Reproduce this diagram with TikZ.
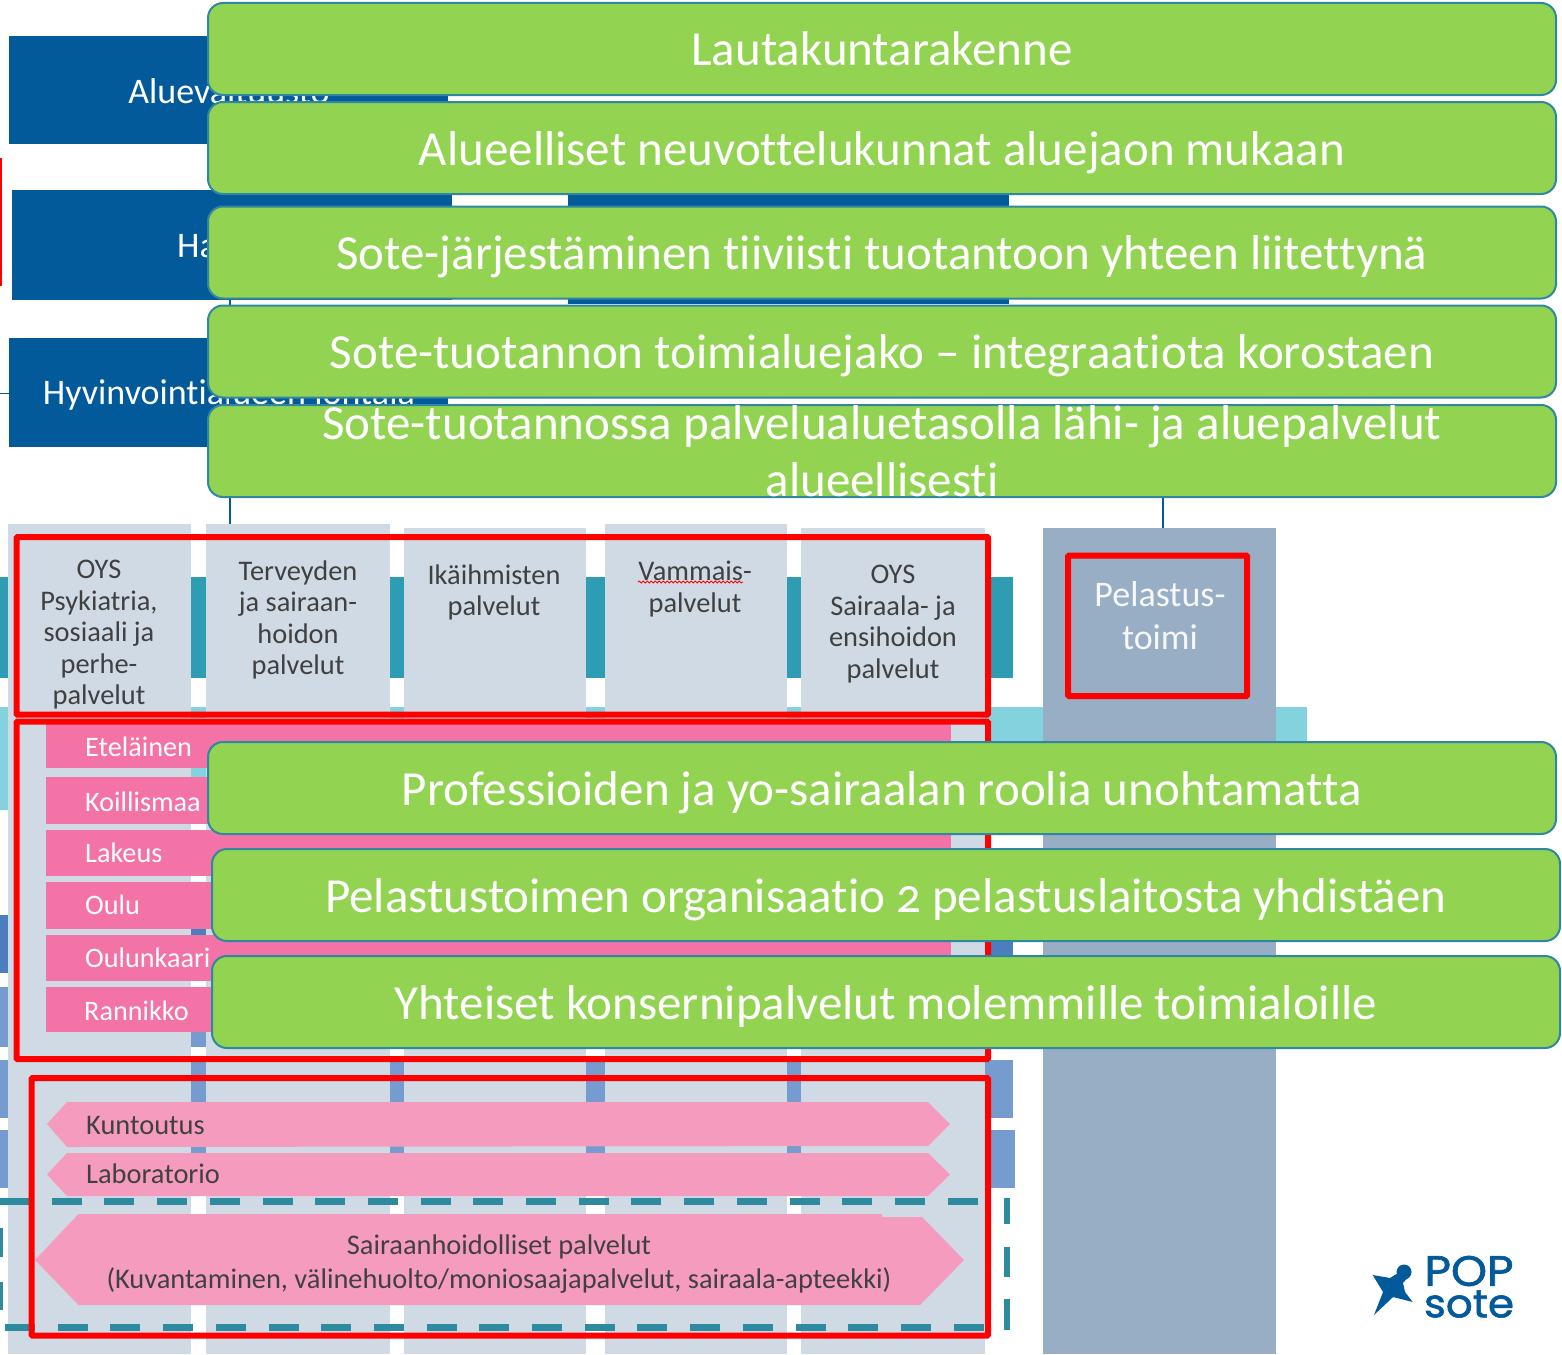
\documentclass[tikz,border=0pt]{standalone}
\usepackage{fontspec}
\setmainfont{Carlito}[Ligatures=CommonOff]
\newfontfamily\logofont[FakeBold=1.5]{Poppins}
\usetikzlibrary{decorations.pathmorphing}
\definecolor{navy}{HTML}{035A9B}
\definecolor{grn}{HTML}{93D352}
\definecolor{grnedge}{HTML}{2F88A0}
\definecolor{colbg}{HTML}{D0DAE5}
\definecolor{teal1}{HTML}{2E9DB3}
\definecolor{teal2}{HTML}{85D2DF}
\definecolor{blue1}{HTML}{4C7DBF}
\definecolor{blue2}{HTML}{769BCF}
\definecolor{rowpink}{HTML}{F373A7}
\definecolor{arrpink}{HTML}{F59CBE}
\definecolor{dashteal}{HTML}{2E8A9E}
\definecolor{pelbg}{HTML}{98AEC5}
\definecolor{dark}{HTML}{404040}
\tikzset{
 x=1pt,y=-1pt,
 greenbox/.style={draw=grnedge,line width=2pt,fill=grn,rounded corners=15pt,text=white,inner sep=0pt,minimum width=1348pt,minimum height=92pt,align=center,text height=34pt,text depth=0pt,font=\fontsize{49}{57}\selectfont},
 bluebox/.style={fill=navy,text=white,inner sep=0pt,text height=24pt,text depth=0pt,font=\fontsize{36}{36}\selectfont},
 bluetext/.style={text=white,inner sep=0pt,anchor=base,font=\fontsize{36}{36}\selectfont},
 colbox/.style={fill=colbg,inner sep=0pt,minimum width=184pt,anchor=north},
 coltext/.style={text=dark,align=center,inner sep=0pt,font=\fontsize{28.4}{31.5}\selectfont},
 rowbox/.style={fill=rowpink,inner sep=0pt,minimum width=905pt,anchor=north west},
 rowtext/.style={text=white,inner sep=0pt,anchor=base west,font=\fontsize{28.2}{30}\selectfont},
 arrtext/.style={text=dark,inner sep=0pt,align=center,font=\fontsize{28.4}{34.5}\selectfont},
 redframe/.style={draw=red,line width=6pt,rounded corners=1pt},
 dashline/.style={draw=dashteal,line width=7pt,dash pattern=on 30pt off 22.7pt},
 wire/.style={draw=#1,line width=1.5pt},
}
\begin{document}
\begin{tikzpicture}
\useasboundingbox (0,0) rectangle (1562,1354);
\fill[white] (0,0) rectangle (1562,1354);
% background bands
\fill[teal2] (0,707) rectangle (1307,810);
\fill[teal1] (0,577) rectangle (1013,678);
\fill[blue1] (0,915) rectangle (1013,973);
\fill[blue2] (0,987) rectangle (1013,1047);
\fill[blue2] (0,1060) rectangle (1013,1118);
\fill[blue2] (0,1130) rectangle (1015,1188);
% columns
\node[colbox,minimum width=183pt,minimum height=830pt] (col1) at (99.5,524) {};
\node[colbox,minimum height=830pt] (col2) at (298,524) {};
\node[colbox,minimum width=182pt,minimum height=826pt] (col3) at (495,528) {};
\node[colbox,minimum width=182pt,minimum height=830pt] (col4) at (696,524) {};
\node[colbox,minimum height=826pt] (col5) at (893,528) {};
\node[fill=pelbg,inner sep=0pt,minimum width=233pt,minimum height=826pt,anchor=north] (col6) at (1159.5,528) {};
\node[coltext] (t1) at (99,635) {OYS\\Psykiatria,\\sosiaali ja\\perhe-\\palvelut};
\node[coltext] (t2) at (298,620) {Terveyden\\ja sairaan-\\hoidon\\palvelut};
\node[coltext] (t3) at (494,592.5) {Ikäihmisten\\palvelut};
\node[coltext] (t4) at (695,589) {Vammais-\\palvelut};
\draw[red,line width=0.9pt,decorate,decoration={snake,amplitude=0.9pt,segment length=4pt}] (638,582) -- (743,582);
\node[coltext] (t5) at (893,624) {OYS\\Sairaala- ja\\ensihoidon\\palvelut};
\node[coltext,text=white!90!pelbg,font=\fontsize{36}{43}\selectfont] (t6) at (1160,616) {Pelastus-\\toimi};
% pink rows
\node[rowbox,minimum height=46pt] (r1) at (46,722) {};
\node[rowbox,minimum height=47pt] (r2) at (46,777) {};
\node[rowbox,minimum height=46pt] (r3) at (46,830) {};
\node[rowbox,minimum height=47pt] (r4) at (46,882) {};
\node[rowbox,minimum height=46pt] (r5) at (46,935) {};
\node[rowbox,minimum height=45pt] (r6) at (46,987) {};
\node[rowtext] (rt1) at (85,756) {Eteläinen};
\node[rowtext] (rt2) at (85,811) {Koillismaa};
\node[rowtext] (rt3) at (85,862) {Lakeus};
\node[rowtext] (rt4) at (85,914.5) {Oulu};
\node[rowtext] (rt5) at (85,967) {Oulunkaari};
\node[rowtext] (rt6) at (84,1020) {Rannikko};
% arrows
\fill[arrpink] (47,1124) -- (67,1102) -- (928,1102) -- (950,1124) -- (928,1146) -- (67,1147) -- cycle;
\fill[arrpink] (47,1174.5) -- (67,1153) -- (928,1153) -- (950,1174.5) -- (928,1196) -- (67,1196) -- cycle;
\fill[arrpink] (35,1260) -- (78.5,1214) -- (882,1214) -- (882,1217) -- (922,1217) -- (964,1260) -- (920,1305) -- (78.5,1305) -- cycle;
\node[arrtext,anchor=base west] (a1) at (86,1134) {Kuntoutus};
\node[arrtext,anchor=base west] (a2) at (86,1183) {Laboratorio};
\node[arrtext] (a3) at (499,1264) {Sairaanhoidolliset palvelut\\(Kuvantaminen, välinehuolto/moniosaajapalvelut, sairaala-apteekki)};
% dashed frame
\draw[dashline] (-1,1201.5) -- (978,1201.5);
\draw[dashline] (5,1327) -- (984,1327);
\draw[draw=dashteal,line width=6pt] (1007,1198) -- (1007,1224) (1007,1247) -- (1007,1277) (1007,1299) -- (1007,1330);
\draw[draw=dashteal,line width=5pt] (0,1228) -- (0,1257) (0,1282) -- (0,1310);
% red frames
\draw[redframe] (16.5,537) rectangle (988,714.5);
\draw[redframe] (16.5,721.5) rectangle (988,1059);
\draw[redframe] (31.5,1078) rectangle (988,1335.5);
\draw[redframe] (1068,555.5) rectangle (1247,696);
% top blue boxes
\node[bluebox,minimum width=439pt,minimum height=108pt] (b1) at (228.5,90) {};
\node[bluetext] (b1t) at (229,103) {Aluevaltuusto};
\node[bluebox,minimum width=440pt,minimum height=110pt] (b2) at (232,245) {};
\node[bluetext] (b2t) at (232,257) {Hallitus};
\node[fill=navy,inner sep=0pt,minimum width=441pt,minimum height=114pt] (b2r) at (788,247) {};
\node[bluebox,minimum width=439pt,minimum height=109pt] (b3) at (228.5,392.5) {};
\node[bluetext] (b3t) at (229,404) {Hyvinvointialueen johtaja};
% connectors
\coordinate (lA) at (230,300);
\coordinate (lB) at (1163,450);
\coordinate (lC) at (0,393.5);
\coordinate (lD) at (0,158);
\coordinate (lE) at (0,286);
\draw[wire=navy] (lA) -- (lA |- col2.north);
\draw[wire=navy] (lB) -- (lB |- col6.north);
\draw[wire=navy] (lC) -- (lC -| b3.west);
\draw[wire=red,line width=3pt] (lD) -- (lE);
% green boxes
\node[greenbox] (g1) at (882,49) {Lautakuntarakenne};
\node[greenbox] (g2) at (882,148) {Alueelliset neuvottelukunnat aluejaon mukaan};
\node[greenbox] (g3) at (882,252.5) {Sote-järjestäminen tiiviisti tuotantoon yhteen liitettynä};
\node[greenbox] (g4) at (882,351.5) {Sote-tuotannon toimialuejako – integraatiota korostaen};
\node[greenbox] (g5) at (882,451) {};
\node[text=white,inner sep=0pt,align=center,font=\fontsize{49}{57}\selectfont] (g5t) at (g5.center) {Sote-tuotannossa palvelualuetasolla lähi- ja aluepalvelut\\alueellisesti};
\node[greenbox] (g6) at (882,788) {Professioiden ja yo-sairaalan roolia unohtamatta};
\node[greenbox] (g7) at (886,895) {Pelastustoimen organisaatio {\addfontfeature{Numbers=OldStyle}2} pelastuslaitosta yhdistäen};
\node[greenbox] (g8) at (886,1002) {Yhteiset konsernipalvelut molemmille toimialoille};
% logo
\fill[navy] (1372.7,1275) -- (1390,1278) -- (1398,1273) -- (1409,1276) -- (1403,1283) -- (1405,1292) -- (1412.7,1302) -- (1393,1297) -- (1374,1315) -- (1383,1292) -- cycle;
\fill[navy] (1404,1272) circle (7.5pt);
\node[text=navy,inner sep=0pt] (pop) at (1469,1271) {\logofont\resizebox{89pt}{30pt}{POP}};
\node[text=navy,inner sep=0pt] (sote) at (1469,1304) {\logofont\resizebox{90pt}{27pt}{sote}};
\end{tikzpicture}
\end{document}
